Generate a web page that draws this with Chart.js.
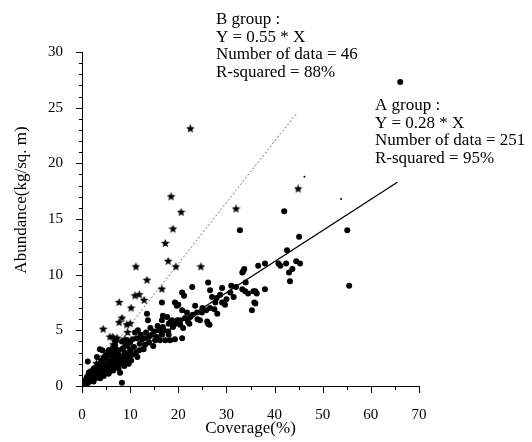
<!DOCTYPE html>
<html>
<head>
<meta charset="utf-8">
<script src="https://cdn.jsdelivr.net/npm/chart.js@4.4.1/dist/chart.umd.min.js"></script>
<style>
  html, body { margin: 0; padding: 0; background: #fff; }
  #wrap { width: 532px; height: 442px; position: relative; }
</style>
</head>
<body>
<div id="wrap"><canvas id="plot" width="532" height="442"></canvas></div>
<script>
// A group (circles), [coverage %, abundance kg/sq. m]
const groupA = [
  [66.1,27.3],[55.1,14.0],[55.5,9.0],[42,15.7],[32.8,14.0],[45.1,13.4],[42.6,12.2],[40.8,11.0],[41.2,10.8],
  [42.4,11.0],[44.5,11.2],[45.3,11.0],[43.7,10.5],[43.0,10.2],[43.2,9.4],[36.6,10.8],[38.0,11.0],[38.0,8.7],
  [35.6,8.5],[36.3,8.3],[35.8,7.5],[36.0,7.4],[35.3,6.8],[33.3,10.2],[33.7,10.5],[33.5,10.3],
  [22.9,8.9],[26.2,9.3],[26.6,8.6],[20.8,8.4],[21.2,8.1],[29.1,8.8],[28.7,8.2],[30.8,8.4],[33.3,8.7],
  [33.9,8.5],[34.5,8.3],[36,8.5],[19.3,7.5],[20,7.3],[23.5,7.2],[27.7,7.5],[29.1,7.5],[29.7,7.3],[20.8,6.8],
  [25.8,6.8],[26.6,7.0],[24.9,6.6],[28.1,6.5],[17.7,6.2],[22.5,6.2],[23.9,6.6],[21.4,6.1],[16.6,5.9],
  [18.7,5.9],[19.8,5.9],[26.0,5.8],[26.2,5.6],[26.5,5.5],[20.4,5.5],[16.8,5.3],[18.9,5.3],[17.9,4.9],
  [16.6,4.6],[18.3,4.1],[19.3,4.2],[20.8,4.3],[16.2,4.1],[16.6,7.5],[19.7,7.2],[13.5,6.5],[13.7,5.9],
  [16.8,6.3],[30.0,7.8],[31.5,8.0],[32.0,8.9],[27.5,6.9],[24.0,6.0],[22.0,5.8],[23.0,6.4],[25.0,7.0],
  [21.8,6.6],[27.0,8.0],[28.0,7.9],[31.0,9.0],[34.0,9.3],[24.5,5.9],[22.3,5.6],[21.0,5.2],[19.5,5.6],[18.0,5.6],
  [11.6,5.0],[9.4,4.1],[8.3,4.0],[6.9,4.1],[18.3,5.7],[20.4,5.9],[11.0,4.8],[11.4,4.3],[11.9,3.2],[16.0,5.0],
  [16.6,4.9],[13.9,4.4],[13.1,3.7],[10.4,2.8],[8.9,3.0],[6.9,2.2],[13.9,3.9],[15.2,4.1],[17.3,4.1],[18.0,4.6],
  [7.6,1.6],[6.2,1.6],[5.6,1.2],[7.9,1.2],[8.3,0.3],[12.5,4.2],[12.0,3.8],[14.5,4.6],[15.0,4.9],[15.5,4.4],
  [14.8,3.6],[10.8,3.5],[10.0,3.2],[9.5,3.6],[12.8,3.3],[13.3,4.8],[14.2,5.2],[15.7,5.4],[17.0,5.0],[10.5,4.2],
  [9.8,2.7],[11.2,3.0],[12.2,4.6],[13.0,4.3],
  [0,0],[0.2,0.05],[0.4,0.1],[0.5,0.2],[0.7,0.15],[0.8,0.3],[1.0,0.25],[1.0,0.4],[1.2,0.5],[1.3,0.3],
  [1.5,0.45],[1.5,0.6],[1.7,0.7],[1.8,0.5],[2.0,0.6],[2.0,0.8],[2.2,0.9],[2.3,0.55],[2.5,0.8],[2.5,1.0],
  [2.7,1.1],[2.8,0.7],[3.0,0.9],[3.0,1.2],[3.2,1.0],[3.3,1.4],[3.5,0.8],[3.5,1.1],[3.7,1.3],[3.8,1.6],
  [4.0,1.0],[4.0,1.4],[4.2,1.2],[4.3,1.8],[4.5,1.1],[4.5,1.5],[4.7,1.7],[4.8,2.0],[5.0,1.3],[5.0,1.6],
  [5.2,1.9],[5.3,2.2],[5.5,1.5],[5.6,1.8],[5.8,2.1],[6.0,1.7],[6.0,2.0],[6.2,2.4],[6.4,1.9],[6.5,2.2],
  [6.7,2.6],[6.8,1.8],[7.0,2.1],[7.0,2.4],[7.2,2.8],[7.4,2.2],[7.5,2.5],[7.8,2.0],[8.0,2.3],[8.0,2.7],
  [8.2,2.5],[8.5,2.4],[8.7,2.1],[9.0,2.6],[9.2,2.3],[9.5,2.8],[1.2,2.2],[1.4,1.2],[3.7,3.3],[5.6,3.2],
  [3.1,2.6],[4.2,3.2],[0.5,0.5],[1.0,0.8],[2.0,1.3],[2.6,1.6],[3.4,1.9],[4.1,2.3],[5.0,2.6],[5.8,2.8],
  [6.3,3.0],[7.0,3.3],[7.7,3.2],[8.5,3.4],[9.0,3.8],[10.0,3.9],[2.4,0.4],[3.8,0.7],[4.5,0.9],[5.5,1.1],
  [6.5,1.4],[7.5,1.7],[8.8,1.8],[10.2,2.3],[11.5,2.6],[9.7,2.0],[1.8,1.0],[3.0,1.5],[4.7,2.6],[6.8,3.6]
];

// B group (stars)
const groupB = [
  [22.5,23.1],[18.5,17.0],[20.6,15.6],[32,15.9],[44.9,17.7],[18.9,14.1],[17.3,12.8],
  [17.9,11.2],[19.5,10.7],[11.2,10.7],[13.5,9.5],[24.7,10.7],[16.6,8.7],[11,8.1],[11.9,8.2],[7.7,7.5],
  [10.2,7.0],[12.9,7.7],[4.4,5.1],[7.7,5.7],[8.3,6.1],[5.8,4.4],[6.4,4.4],[9.3,5.5],[8.9,4.2],[7.3,4.3],
  [0.5,0.3],[1,0.5],[1.5,0.9],[2,1.2],[2.5,1.3],[3,1.7],[3.5,2],[4,2.3],[4.5,2.6],[5,2.9],[5.5,3.1],
  [6,3.3],[6.5,3.7],[7,3.9],[3,2.0],[2,1.4],[9.5,4.8],[10,5.6]
];
// two B marks printed only as faint specks
const groupBFaint = [[46.2,18.8],[53.8,16.8]];

// fitted lines: A  Y = 0.28 * X,  B  Y = 0.55 * X
const fitA = [[0,0],[65.5,18.3]];
const fitB = [[0,0],[44.6,24.5]];

const labelB = ["B group :", "Y = 0.55 * X", "Number of data = 46", "R-squared = 88%"];
const labelA = ["A group :", "Y = 0.28 * X", "Number of data = 251", "R-squared = 95%"];

const serif = "'Liberation Serif', 'DejaVu Serif', serif";
const toXY = a => a.map(p => ({ x: p[0], y: p[1] }));

// filled five point star marker
function makeStar(size) {
  const c = document.createElement("canvas");
  c.width = size; c.height = size;
  const g = c.getContext("2d");
  const cx = size / 2, cy = size / 2, ro = size / 2, ri = ro * 0.45;
  g.beginPath();
  for (let i = 0; i < 10; i++) {
    const r = i % 2 ? ri : ro;
    const a = -Math.PI / 2 + i * Math.PI / 5;
    g.lineTo(cx + r * Math.cos(a), cy + r * Math.sin(a));
  }
  g.closePath();
  g.fillStyle = "#000";
  g.fill();
  return c;
}
const star = makeStar(9);

const extras = {
  id: "extras",
  afterDraw(chart) {
    const { ctx, scales: { x, y } } = chart;
    ctx.save();
    ctx.strokeStyle = "#000";
    ctx.lineWidth = 1;
    ctx.beginPath();
    for (let v = 0; v <= 70; v += 5) {
      const px = Math.round(x.getPixelForValue(v)) + 0.5;
      const len = v % 10 === 0 ? 7 : 4;
      ctx.moveTo(px, y.bottom); ctx.lineTo(px, y.bottom + len);
    }
    for (let v = 0; v <= 30; v += 1) {
      const py = Math.round(y.getPixelForValue(v)) + 0.5;
      const len = v % 5 === 0 ? 6 : 3;
      ctx.moveTo(x.left - len, py); ctx.lineTo(x.left, py);
    }
    ctx.stroke();

    ctx.fillStyle = "#000";
    ctx.font = "17px " + serif;
    ctx.textBaseline = "middle";
    labelB.forEach((t, i) => ctx.fillText(t, 216, 20 + i * 17.5));
    labelA.forEach((t, i) => ctx.fillText(t, 375, 106 + i * 17.5));

    // y axis title, drawn here so it can sit a little above centre like the original
    ctx.translate(22, 200);
    ctx.rotate(-Math.PI / 2);
    ctx.textAlign = "center";
    ctx.fillText("Abundance(kg/sq. m)", 0, 0);
    ctx.restore();
  }
};

new Chart(document.getElementById("plot"), {
  type: "scatter",
  data: {
    datasets: [
      { label: "A", data: toXY(groupA), pointStyle: "circle", pointRadius: 3,
        backgroundColor: "#000", borderColor: "#000", borderWidth: 0 },
      { label: "B", data: toXY(groupB), pointStyle: star, pointRadius: 4 },
      { label: "Bfaint", data: toXY(groupBFaint), pointStyle: "circle", pointRadius: 1,
        backgroundColor: "#000", borderWidth: 0 },
      { label: "fitA", type: "line", data: toXY(fitA), borderColor: "#000", borderWidth: 1.3,
        pointRadius: 0, fill: false },
      { label: "fitB", type: "line", data: toXY(fitB), borderColor: "#777", borderWidth: 1,
        borderDash: [2, 2], pointRadius: 0, fill: false }
    ]
  },
  options: {
    responsive: false,
    animation: false,
    layout: { padding: { left: 0, right: 113, top: 52, bottom: 0 } },
    plugins: { legend: { display: false }, tooltip: { enabled: false } },
    scales: {
      x: {
        type: "linear", min: 0, max: 70,
        grid: { display: false },
        border: { display: true, color: "#000", width: 1 },
        ticks: { stepSize: 10, padding: 12, color: "#000", font: { family: serif, size: 15 } },
        title: { display: true, text: "Coverage(%)", color: "#000", font: { family: serif, size: 17 },
          padding: { top: 0, bottom: 3 } },
        afterFit(s) { s.height = 56; }
      },
      y: {
        type: "linear", min: 0, max: 30,
        grid: { display: false },
        border: { display: true, color: "#000", width: 1 },
        ticks: { stepSize: 5, padding: 11, color: "#000", font: { family: serif, size: 15 } },
        afterFit(s) { s.width = 82; }
      }
    }
  },
  plugins: [extras]
});
</script>
</body>
</html>
